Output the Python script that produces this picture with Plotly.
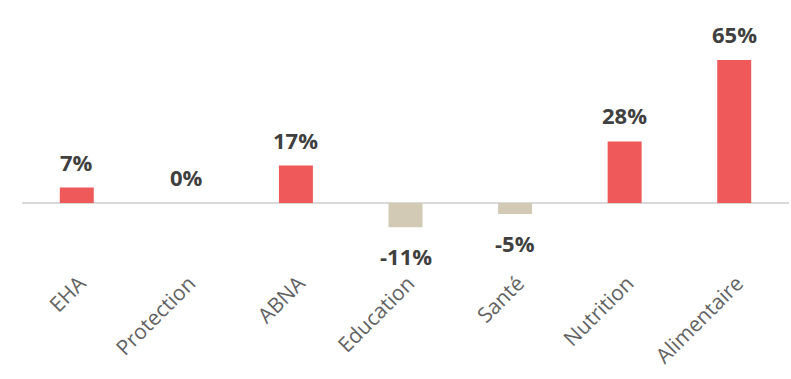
import plotly.graph_objects as go

categories = ["EHA", "Protection", "ABNA", "Education", "Santé", "Nutrition", "Alimentaire"]
values = [7, 0, 17, -11, -5, 28, 65]

POS_COLOR = "#F0595A"
NEG_COLOR = "#D3CAB6"
LABEL_COLOR = "#404040"
TICK_COLOR = "#636363"

colors = [POS_COLOR if v >= 0 else NEG_COLOR for v in values]

fig = go.Figure()
fig.add_trace(go.Bar(
    x=categories,
    y=values,
    marker=dict(color=colors, line=dict(width=0)),
    width=0.31,
    hoverinfo="skip",
))

# value labels above positive bars, below negative ones
for cat, v in zip(categories, values):
    fig.add_annotation(
        x=cat, y=v, text=f"<b>{v}%</b>", showarrow=False,
        yshift=26 if v >= 0 else -29,
        font=dict(family="Open Sans", size=22, color=LABEL_COLOR),
    )

fig.update_layout(
    width=791, height=379,
    margin=dict(l=22, r=2, t=10, b=117),
    paper_bgcolor="white", plot_bgcolor="white",
    showlegend=False,
    xaxis=dict(
        showline=False, showgrid=False, ticks="",
        tickangle=-45,
        ticklabelstandoff=4,
        ticklabelshift=3,
        tickfont=dict(family="Open Sans", size=21, color=TICK_COLOR),
    ),
    yaxis=dict(
        range=[-26.8, 87.7], visible=True, showticklabels=False,
        showgrid=False, zeroline=True, zerolinecolor="#D9D9D9", zerolinewidth=2,
    ),
)

fig.write_html("out.html")
